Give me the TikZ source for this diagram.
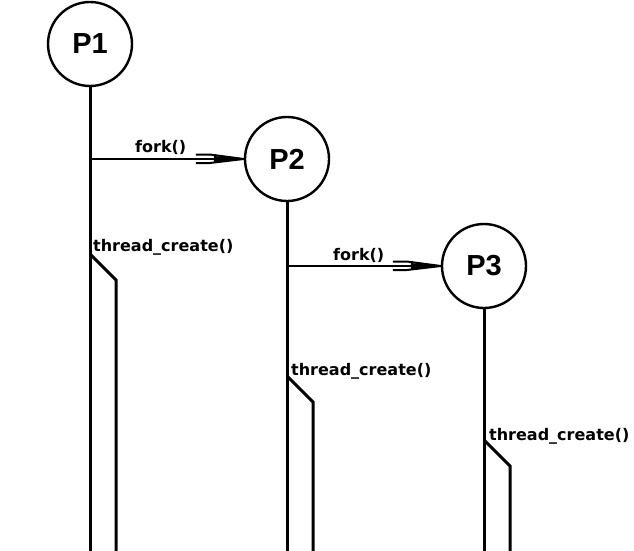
\documentclass[tikz,border=0pt]{standalone}
\usepackage{fontspec}
\setmainfont{DejaVu Sans}
\newfontfamily\pfont{Liberation Sans}
\begin{document}
\begin{tikzpicture}[x=1pt,y=-1pt,
  proc/.style={circle,draw,line width=2.4pt,minimum size=84pt,inner sep=0pt,font=\pfont\bfseries\fontsize{29}{29}\selectfont},
  life/.style={line width=3pt},
  fk/.style={line width=1.8pt},
  lbl/.style={anchor=base west,inner sep=0pt,font=\bfseries\fontsize{16}{16}\selectfont}]
\useasboundingbox (0,0) rectangle (634,551);
\node[proc] (p1) at (90,44) {P1};
\node[proc] (p2) at (287,159) {P2};
\node[proc] (p3) at (484,266) {P3};
% lifelines
\foreach \i/\x in {1/90,2/287,3/484}{
  \coordinate (b\i) at (\x,551);
  \draw[life] (p\i.south) -- (b\i);
}
% thread branches
\coordinate (t1) at (90,254);  \coordinate (d1) at (116,280); \coordinate (e1) at (116,551);
\coordinate (t2) at (287,376); \coordinate (d2) at (313,402); \coordinate (e2) at (313,551);
\coordinate (t3) at (484,440); \coordinate (d3) at (510,466); \coordinate (e3) at (510,551);
\foreach \i in {1,2,3}{\draw[life] (t\i) -- (d\i) -- (e\i);}
\node[lbl] (l1) at (93,251) {thread\_create()};
\node[lbl] (l2) at (291,375) {thread\_create()};
\node[lbl] (l3) at (489,440) {thread\_create()};
% fork arrows
\coordinate (s1) at (92,159);
\coordinate (s2) at (289,266);
\draw[fk] (s1) -- (p2.west);
\draw[fk] (s2) -- (p3.west);
\foreach \t in {p2.west,p3.west}{
  \draw[line width=2pt] ([shift={(-48,-4.5)}]\t) -- ([shift={(-34,-4.5)}]\t) -- (\t);
  \draw[line width=2pt] ([shift={(-48,4)}]\t) -- ([shift={(-34,4)}]\t) -- (\t);
  \fill ([shift={(-30,-3)}]\t) -- (\t) -- ([shift={(-30,3)}]\t) -- cycle;
}
\node[lbl] (f1) at (135,152) {fork()};
\node[lbl] (f2) at (333,260) {fork()};
\end{tikzpicture}
\end{document}
